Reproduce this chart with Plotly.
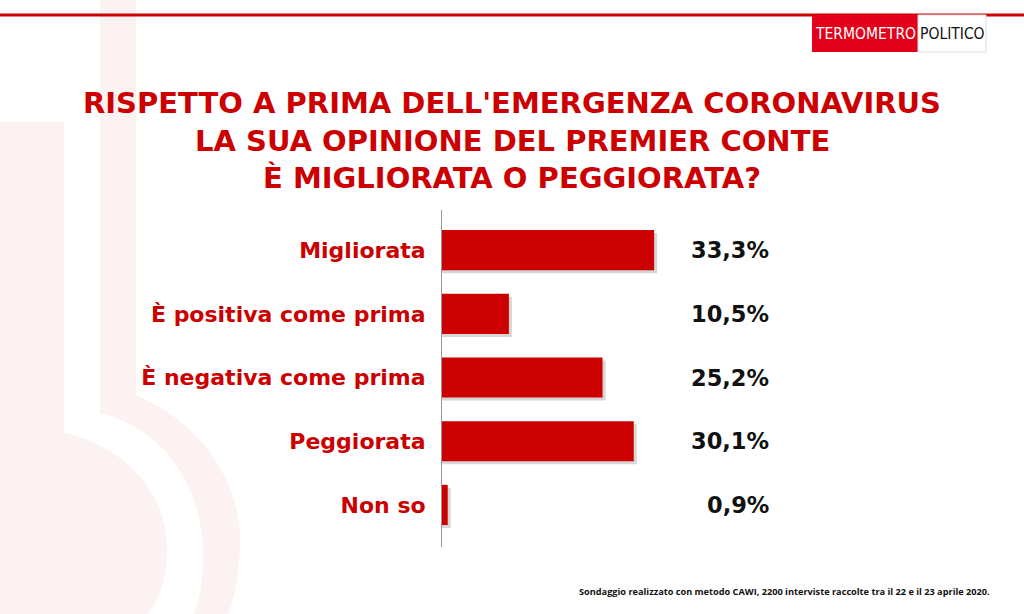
import plotly.graph_objects as go

categories = ["Migliorata", "È positiva come prima", "È negativa come prima", "Peggiorata", "Non so"]
values = [33.3, 10.5, 25.2, 30.1, 0.9]
value_labels = ["33,3%", "10,5%", "25,2%", "30,1%", "0,9%"]

W, H = 1024, 614
L, R, T, B = 442, 244, 210, 67
PW, PH = W - L - R, H - T - B
RED = "#CC0000"
PINK = "rgba(204,0,0,0.05)"
SCALE = 6.37  # px per percentage point
BAR_W = 0.63
SH = 3 / 63.7  # shadow offset in category units

FONT = "DejaVu Sans"


def px(x):
    return (x - L) / PW


def py(y):
    return (H - B - y) / PH


fig = go.Figure()
# soft shadow behind bars
fig.add_trace(go.Bar(
    y=categories, x=[v + 3 / SCALE for v in values], orientation="h",
    marker=dict(color="rgba(90,90,90,0.25)", line=dict(width=0)),
    width=BAR_W, offset=-BAR_W / 2 + SH, hoverinfo="skip",
))
fig.add_trace(go.Bar(
    y=categories, x=values, orientation="h",
    marker=dict(color=RED, line=dict(width=0)),
    width=BAR_W, offset=-BAR_W / 2, hoverinfo="skip",
))

shapes = []
# faint thermometer watermark: inner fill
shapes.append(dict(type="path", xref="paper", yref="paper",
                   path=(f"M {px(0)},{py(122)} L {px(64)},{py(122)} L {px(64)},{py(433)} "
                         f"C {px(130)},{py(447)} {px(172)},{py(500)} {px(167)},{py(560)} "
                         f"C {px(164)},{py(588)} {px(156)},{py(604)} {px(148)},{py(614)} "
                         f"L {px(0)},{py(614)} Z"),
                   fillcolor=PINK, line=dict(width=0), layer="below"))
# outer band
shapes.append(dict(type="path", xref="paper", yref="paper",
                   path=(f"M {px(100)},{py(0)} L {px(136)},{py(0)} L {px(136)},{py(395)} "
                         f"C {px(205)},{py(425)} {px(243)},{py(485)} {px(240)},{py(550)} "
                         f"C {px(238)},{py(580)} {px(234)},{py(600)} {px(228)},{py(614)} "
                         f"L {px(194)},{py(614)} "
                         f"C {px(200)},{py(598)} {px(204)},{py(575)} {px(203)},{py(548)} "
                         f"C {px(200)},{py(480)} {px(160)},{py(428)} {px(100)},{py(413)} Z"),
                   fillcolor=PINK, line=dict(width=0), layer="below"))
# top red line
shapes.append(dict(type="line", xref="paper", yref="paper", x0=px(0), x1=px(1024), y0=py(15), y1=py(15),
                   line=dict(color=RED, width=3)))
# logo boxes
shapes.append(dict(type="rect", xref="paper", yref="paper", x0=px(812), x1=px(918), y0=py(52), y1=py(15),
                   fillcolor="#E3001B", line=dict(width=0)))
shapes.append(dict(type="rect", xref="paper", yref="paper", x0=px(918), x1=px(986), y0=py(52), y1=py(15),
                   fillcolor="white", line=dict(color="#dddddd", width=1)))

annotations = []
title_lines = ["RISPETTO A PRIMA DELL'EMERGENZA CORONAVIRUS",
               "LA SUA OPINIONE DEL PREMIER CONTE",
               "È MIGLIORATA O PEGGIORATA?"]
for i, line in enumerate(title_lines):
    annotations.append(dict(xref="paper", yref="paper", x=px(512), y=py(103 + i * 37.5),
                            text=f"<b>{line}</b>", showarrow=False, xanchor="center", yanchor="middle",
                            font=dict(family=FONT, size=29, color=RED)))
for cat, lab in zip(categories, value_labels):
    annotations.append(dict(xref="paper", yref="y", x=px(771), y=cat, text=f"<b>{lab}</b>",
                            showarrow=False, xanchor="right", yanchor="middle",
                            font=dict(family=FONT, size=22.5, color="#111111")))
annotations.append(dict(xref="paper", yref="paper", x=px(992), y=py(591),
                        text="<b>Sondaggio realizzato con metodo CAWI, 2200 interviste raccolte tra il 22 e il 23 aprile 2020.</b>",
                        showarrow=False, xanchor="right", yanchor="middle",
                        font=dict(family="Open Sans", size=9.2, color="#111111")))
LOGO_FONT = "DejaVu Sans Condensed, Liberation Sans Narrow, Roboto Condensed, Liberation Sans, sans-serif"
annotations.append(dict(xref="paper", yref="paper", x=px(865), y=py(34), text="TERMOMETRO",
                        showarrow=False, xanchor="center", yanchor="middle",
                        font=dict(family=LOGO_FONT, size=15.5, color="white")))
annotations.append(dict(xref="paper", yref="paper", x=px(952), y=py(34), text="POLITICO",
                        showarrow=False, xanchor="center", yanchor="middle",
                        font=dict(family=LOGO_FONT, size=15.5, color="#111111")))

fig.update_layout(
    width=W, height=H,
    margin=dict(l=L, r=R, t=T, b=B, pad=0),
    paper_bgcolor="white", plot_bgcolor="rgba(0,0,0,0)",
    showlegend=False, barmode="overlay",
    shapes=shapes, annotations=annotations,
    xaxis=dict(range=[0, PW / SCALE], visible=False, fixedrange=True),
    yaxis=dict(range=[4.66, -0.63], showline=True, linecolor="#999999", linewidth=1,
               ticks="", showgrid=False, zeroline=False, ticklabelstandoff=11,
               tickfont=dict(family=FONT, size=22, color=RED, weight="bold")),
)
fig.write_html("out.html", config={"displayModeBar": False},
               post_script="document.body.style.margin='0';document.body.style.overflow='hidden';")
